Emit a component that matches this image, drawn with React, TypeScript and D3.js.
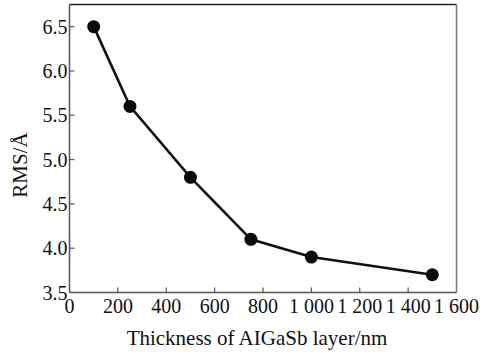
import React, { useRef, useEffect } from 'react';
import * as d3 from 'd3';

const thickness = [100, 250, 500, 750, 1000, 1500];
const rms = [6.5, 5.6, 4.8, 4.1, 3.9, 3.7];
const xTicks = [0, 200, 400, 600, 800, 1000, 1200, 1400, 1600];
const xTickLabels = ['0', '200', '400', '600', '800', '1 000', '1 200', '1 400', '1 600'];
const yTicks = [3.5, 4.0, 4.5, 5.0, 5.5, 6.0, 6.5];

export default function App() {
  const svgRef = useRef<SVGSVGElement>(null);

  useEffect(() => {
    const svg = d3.select(svgRef.current);
    svg.selectAll('*').remove();

    const left = 69.5, right = 456.5, top = 4.5, bottom = 292.5;
    const x = d3.scaleLinear().domain([0, 1600]).range([left, right]);
    const y = d3.scaleLinear().domain([3.5, 6.75]).range([bottom, top]);
    const font = 'Liberation Serif, Times New Roman, serif';

    svg.append('rect').attr('width', 480).attr('height', 354).attr('fill', '#fff');

    // frame
    svg.append('line').attr('x1', left).attr('x2', right).attr('y1', top).attr('y2', top)
      .attr('stroke', '#222').attr('stroke-width', 1.5);
    svg.append('line').attr('x1', right).attr('x2', right).attr('y1', top).attr('y2', bottom)
      .attr('stroke', '#777').attr('stroke-width', 1.5);
    svg.append('line').attr('x1', left).attr('x2', left).attr('y1', top).attr('y2', bottom)
      .attr('stroke', '#555').attr('stroke-width', 1.5);
    svg.append('line').attr('x1', left).attr('x2', right).attr('y1', bottom).attr('y2', bottom)
      .attr('stroke', '#555').attr('stroke-width', 1.5);

    // x ticks (inward)
    const xg = svg.append('g');
    xTicks.forEach((t, i) => {
      if (t > 0 && t < 1600) {
        xg.append('line').attr('x1', x(t)).attr('x2', x(t)).attr('y1', bottom).attr('y2', bottom - 5)
          .attr('stroke', '#555').attr('stroke-width', 1.2);
      }
      xg.append('text').attr('x', x(t)).attr('y', bottom + 20.5).attr('text-anchor', 'middle')
        .attr('font-family', font).attr('font-size', 20).attr('fill', '#111').text(xTickLabels[i]);
    });

    // y ticks (inward)
    const yg = svg.append('g');
    yTicks.forEach(t => {
      if (t > 3.5) {
        yg.append('line').attr('x1', left).attr('x2', left + 5).attr('y1', y(t)).attr('y2', y(t))
          .attr('stroke', '#555').attr('stroke-width', 1.2);
      }
      yg.append('text').attr('x', left - 2).attr('y', y(t) + 7).attr('text-anchor', 'end')
        .attr('font-family', font).attr('font-size', 20).attr('fill', '#111').text(t.toFixed(1));
    });

    const pts = thickness.map((d, i) => [d, rms[i]] as [number, number]);
    const line = d3.line<[number, number]>().x(d => x(d[0])).y(d => y(d[1]));
    svg.append('path').attr('d', line(pts)).attr('fill', 'none')
      .attr('stroke', '#111').attr('stroke-width', 2.6);

    svg.selectAll('circle.pt').data(pts).enter().append('circle')
      .attr('cx', d => x(d[0])).attr('cy', d => y(d[1])).attr('r', 6.5).attr('fill', '#0a0a0a');

    svg.append('text').attr('transform', 'translate(27, 165) rotate(-90)')
      .attr('text-anchor', 'middle').attr('font-family', font).attr('font-size', 21).attr('fill', '#111')
      .text('RMS/Å');
    svg.append('text').attr('x', 257).attr('y', 345).attr('text-anchor', 'middle')
      .attr('font-family', font).attr('font-size', 21).attr('fill', '#111')
      .text('Thickness of AIGaSb layer/nm');
  }, []);

  return (
    <div style={{ position: 'absolute', left: 0, top: 0 }}>
      <svg ref={svgRef} width={480} height={354} style={{ display: 'block' }} />
    </div>
  );
}
